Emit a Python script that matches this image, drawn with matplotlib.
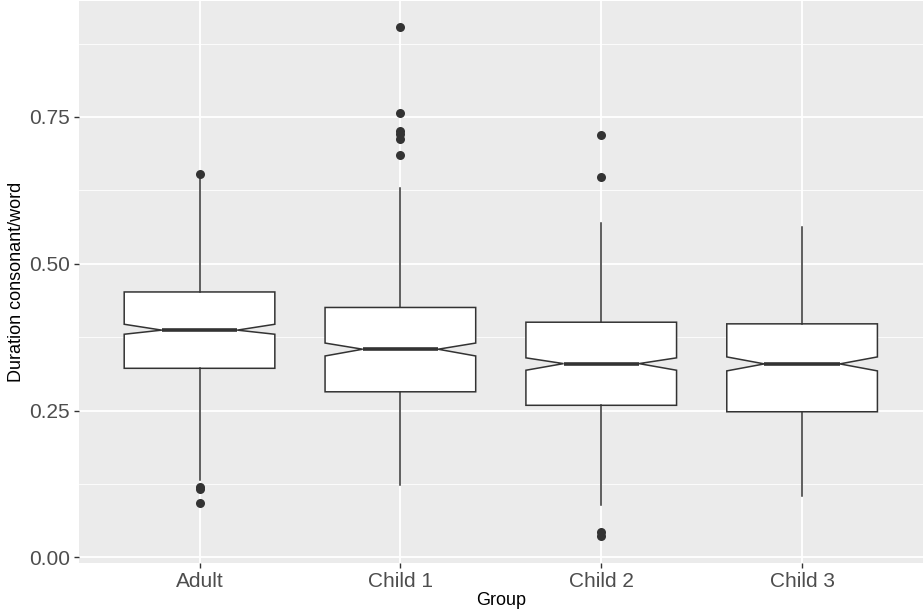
import numpy as np
import matplotlib
matplotlib.use("Agg")
import matplotlib.pyplot as plt

plt.rcParams['font.family'] = ['Liberation Sans', 'DejaVu Sans']

# box statistics
groups = ['Adult', 'Child 1', 'Child 2', 'Child 3']
whislo = [0.131, 0.123, 0.090, 0.104]
q1 = [0.322, 0.282, 0.259, 0.248]
med = [0.387, 0.3545, 0.330, 0.3295]
q3 = [0.452, 0.4256, 0.4005, 0.3977]
whishi = [0.646, 0.629, 0.570, 0.562]
cilo = [0.380, 0.343, 0.3187, 0.3176]
cihi = [0.397, 0.365, 0.3398, 0.3414]
fliers = [
    [0.653, 0.120, 0.116, 0.093],
    [0.904, 0.756, 0.726, 0.721, 0.713, 0.686],
    [0.719, 0.647, 0.043, 0.037],
    [],
]

stats = []
for i in range(len(groups)):
    stats.append(dict(label=groups[i], whislo=whislo[i], q1=q1[i], med=med[i],
                      q3=q3[i], whishi=whishi[i], cilo=cilo[i], cihi=cihi[i],
                      fliers=fliers[i]))

fig = plt.figure(figsize=(9.24, 6.13), dpi=100)
ax = fig.add_axes([0.0855, 0.0816, 0.913, 0.9168])
ax.set_facecolor('#EBEBEB')

pos = np.arange(1, len(groups) + 1)
line = dict(color='#333333', linewidth=1.1)
ax.bxp(stats, positions=pos, widths=0.75, shownotches=True, patch_artist=True,
       showcaps=False,
       boxprops=dict(facecolor='white', edgecolor='#333333', linewidth=1.1),
       whiskerprops=line,
       medianprops=dict(color='#333333', linewidth=2.6, solid_capstyle='butt'),
       flierprops=dict(marker='o', markerfacecolor='#333333',
                       markeredgewidth=0, markersize=6.5),
       zorder=3)

ax.set_xlim(0.4, 4.6)
ax.set_ylim(-0.0095, 0.9475)
ax.set_yticks([0, 0.25, 0.5, 0.75])
ax.set_yticklabels(['0.00', '0.25', '0.50', '0.75'])
ax.set_yticks([0.125, 0.375, 0.625, 0.875], minor=True)
ax.set_xticks(pos)
ax.set_xticklabels(groups)

ax.grid(True, which='major', color='white', linewidth=1.3)
ax.grid(True, which='minor', axis='y', color='white', linewidth=0.6)
ax.set_axisbelow(True)
for s in ax.spines.values():
    s.set_visible(False)
ax.tick_params(which='major', length=3.5, width=1, color='#333333',
               labelsize=15, labelcolor='#4D4D4D', pad=3)
ax.tick_params(which='minor', length=0)

ax.set_xlabel('Group', fontsize=13, labelpad=1)
ax.set_ylabel('Duration consonant/word', fontsize=13, labelpad=3)

fig.savefig('out.png', dpi=100)
